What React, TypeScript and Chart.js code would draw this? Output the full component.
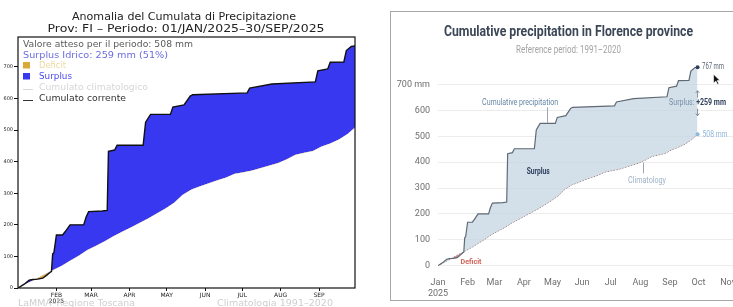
import React, { useEffect, useRef } from 'react';
import { Chart, registerables } from 'chart.js';
Chart.register(...registerables);

// ---------- data ----------
const monthStartDays = [0, 31, 59, 90, 120, 151, 181, 212, 243, 273, 304];
const monthNamesEn = ['Jan', 'Feb', 'Mar', 'Apr', 'May', 'Jun', 'Jul', 'Aug', 'Sep', 'Oct', 'Nov'];
const monthNamesIt = ['JAN', 'FEB', 'MAR', 'APR', 'MAY', 'JUN', 'JUL', 'AUG', 'SEP', 'OCT', 'NOV'];
const yearLabel = '2025';
const mmTicks = [0, 100, 200, 300, 400, 500, 600, 700];

// current cumulative precipitation (day of year from 1 Jan, mm)
const currentDays = [0, 5, 9, 12, 16, 20, 23, 26, 27, 28, 29, 31, 36, 38, 42, 53, 55, 57, 68, 72, 73, 78, 80, 101, 103, 107, 123, 125, 134, 139, 141, 185, 187, 205, 240, 242, 250, 252, 263, 265, 269, 272];
const currentMm = [0, 12, 25, 27, 28, 31, 40, 50, 52, 108, 112, 168, 168, 178, 200, 200, 225, 242, 244, 246, 433, 437, 452, 452, 525, 550, 550, 573, 580, 608, 612, 618, 633, 646, 653, 688, 694, 715, 716, 752, 765, 767];

// climatological cumulative 1991-2020
const climDays = [0, 7, 14, 21, 28, 35, 42, 49, 56, 63, 70, 77, 84, 91, 98, 105, 112, 119, 126, 133, 140, 147, 154, 161, 168, 175, 182, 189, 196, 203, 210, 217, 224, 231, 238, 245, 252, 259, 266, 272];
const climMm = [0, 14, 28, 42, 56, 70, 86, 102, 120, 134, 148, 164, 178, 192, 206, 220, 236, 252, 270, 295, 312, 322, 332, 341, 350, 362, 367, 372, 380, 388, 396, 408, 422, 428, 434, 448, 458, 470, 488, 508];

const lastCur = currentMm[currentMm.length - 1];
const lastClim = climMm[climMm.length - 1];
const lastDay = currentDays[currentDays.length - 1];
const surplus = lastCur - lastClim;
const surplusPct = Math.round((surplus / lastClim) * 100);

const pts = (xs: number[], ys: number[]) => xs.map((x, i) => ({ x, y: ys[i] }));

function fitText(ctx: CanvasRenderingContext2D, text: string, x: number, y: number, font: string, color: string, targetW: number, align: CanvasTextAlign = 'center') {
  ctx.save();
  ctx.font = font;
  ctx.fillStyle = color;
  ctx.textBaseline = 'middle';
  const w = ctx.measureText(text).width || 1;
  let s = targetW / w;
  s = Math.max(0.55, Math.min(1.4, s));
  ctx.translate(x, y);
  ctx.scale(s, 1);
  ctx.textAlign = align;
  ctx.fillText(text, 0, 0);
  ctx.restore();
}

const LF = '"DejaVu Sans", sans-serif';
const RF = 'Roboto, "Noto Sans", sans-serif';

// ---------- left chart decorations ----------
const leftDecor = {
  id: 'leftDecor',
  afterDraw(chart: any) {
    const { ctx, chartArea: a } = chart;
    ctx.save();
    ctx.strokeStyle = '#111';
    ctx.lineWidth = 1.2;
    ctx.strokeRect(a.left, a.top, a.right - a.left, a.bottom - a.top);
    fitText(ctx, 'Anomalia del Cumulata di Precipitazione', 184, 17, `10px ${LF}`, '#222', 224);
    fitText(ctx, 'Prov: FI \u2013 Periodo: 01/JAN/2025\u201330/SEP/2025', 186, 29, `10px ${LF}`, '#222', 277);
    fitText(ctx, `Valore atteso per il periodo: ${lastClim} mm`, 23, 45, `8px ${LF}`, '#5a5a5a', 170, 'left');
    fitText(ctx, `Surplus Idrico: ${surplus} mm (${surplusPct}%)`, 23, 55.5, `8px ${LF}`, '#6c6ce0', 145, 'left');
    ctx.fillStyle = '#d9a93a';
    ctx.fillRect(23, 62, 7, 6.5);
    fitText(ctx, 'Deficit', 39, 65.7, `8px ${LF}`, '#eed9a0', 27, 'left');
    ctx.fillStyle = '#3838f0';
    ctx.fillRect(23, 73, 7, 6.5);
    fitText(ctx, 'Surplus', 39, 76.7, `8px ${LF}`, '#4a4aec', 33, 'left');
    ctx.strokeStyle = '#d8d8d8';
    ctx.lineWidth = 1;
    ctx.beginPath(); ctx.moveTo(23, 89.5); ctx.lineTo(33, 89.5); ctx.stroke();
    fitText(ctx, 'Cumulato climatologico', 39, 87.5, `8px ${LF}`, '#d6d6d6', 109, 'left');
    ctx.strokeStyle = '#333';
    ctx.beginPath(); ctx.moveTo(23, 100.5); ctx.lineTo(33, 100.5); ctx.stroke();
    fitText(ctx, 'Cumulato corrente', 39, 98.5, `8px ${LF}`, '#333', 87, 'left');
    fitText(ctx, 'LaMMA\u2013Regione Toscana', 18, 304, `9px ${LF}`, '#cfcfcf', 117, 'left');
    fitText(ctx, 'Climatologia 1991\u20132020', 217, 304, `9px ${LF}`, '#cfcfcf', 116, 'left');
    ctx.restore();
  },
};

// ---------- right chart decorations ----------
function arrow(ctx: CanvasRenderingContext2D, x: number, y1: number, y2: number) {
  ctx.beginPath();
  ctx.moveTo(x, y1); ctx.lineTo(x, y2);
  const dir = y2 < y1 ? -1 : 1;
  ctx.moveTo(x - 1.8, y2 - dir * 2.2); ctx.lineTo(x, y2); ctx.lineTo(x + 1.8, y2 - dir * 2.2);
  ctx.stroke();
}

const rightDecor = {
  id: 'rightDecor',
  afterDraw(chart: any) {
    const { ctx } = chart;
    const xs = chart.scales.x, ys = chart.scales.y;
    const px = (d: number) => xs.getPixelForValue(d);
    const py = (v: number) => ys.getPixelForValue(v);
    ctx.save();
    fitText(ctx, 'Cumulative precipitation in Florence province', 177.5, 20, `bold 14px ${RF}`, '#3b4656', 249);
    fitText(ctx, 'Reference period: 1991\u20132020', 177.5, 38, `10px ${RF}`, '#a3a3a3', 105);

    ctx.strokeStyle = '#9aa6b2';
    ctx.lineWidth = 1;
    // leader for cumulative line
    ctx.beginPath(); ctx.moveTo(Math.round(px(114)) + 0.5, py(612)); ctx.lineTo(Math.round(px(114)) + 0.5, py(551)); ctx.stroke();
    fitText(ctx, 'Cumulative precipitation', px(86), py(629), `9px ${RF}`, '#6486a6', 76);
    // climatology leader
    ctx.beginPath(); ctx.moveTo(Math.round(px(214.6)) + 0.5, py(398)); ctx.lineTo(Math.round(px(214.6)) + 0.5, py(357)); ctx.stroke();
    fitText(ctx, 'Climatology', px(219), py(328), `9px ${RF}`, '#9fb3c8', 38);
    fitText(ctx, 'Surplus', px(105), py(362), `bold 9px ${RF}`, '#2e3f5c', 23);
    fitText(ctx, 'Deficit', px(34.6), py(15), `bold 8px ${RF}`, '#d0655a', 21);

    // end points
    const ex = px(lastDay);
    ctx.fillStyle = '#2e3f5c';
    ctx.beginPath(); ctx.arc(ex, py(lastCur), 2, 0, Math.PI * 2); ctx.fill();
    ctx.fillStyle = '#8fb8dc';
    ctx.beginPath(); ctx.arc(ex, py(lastClim), 2, 0, Math.PI * 2); ctx.fill();
    fitText(ctx, `${lastCur} mm`, ex + 4.5, py(lastCur), `9px ${RF}`, '#5b6673', 22, 'left');
    fitText(ctx, `${lastClim} mm`, ex + 5, py(lastClim), `9px ${RF}`, '#8fb8dc', 25, 'left');

    // surplus arrows and label
    ctx.strokeStyle = '#6f7780';
    ctx.lineWidth = 0.8;
    const ey = py(630);
    arrow(ctx, ex, ey - 5, ey - 12);
    arrow(ctx, ex, ey + 6, ey + 13);
    ctx.font = `9px ${RF}`;
    const t1 = 'Surplus: ';
    const w1 = ctx.measureText(t1).width;
    ctx.font = `bold 9px ${RF}`;
    const t2 = `+${surplus} mm`;
    const w2 = ctx.measureText(t2).width;
    const s = 57 / (w1 + w2);
    ctx.save();
    ctx.translate(ex - 28.5, ey);
    ctx.scale(s, 1);
    ctx.textBaseline = 'middle';
    ctx.textAlign = 'left';
    ctx.font = `9px ${RF}`;
    ctx.fillStyle = '#7a8fa6';
    ctx.fillText(t1, 0, 0);
    ctx.font = `bold 9px ${RF}`;
    ctx.fillStyle = '#2e3f5c';
    ctx.fillText(t2, w1, 0);
    ctx.restore();

    // mouse pointer from the screenshot
    ctx.save();
    ctx.translate(ex + 16, py(lastCur) + 7);
    ctx.scale(0.75, 0.75);
    ctx.beginPath();
    ctx.moveTo(0, 0); ctx.lineTo(0, 12); ctx.lineTo(3, 9); ctx.lineTo(5.2, 13.5); ctx.lineTo(7, 12.7); ctx.lineTo(4.8, 8.3); ctx.lineTo(8.5, 8.3); ctx.closePath();
    ctx.fillStyle = '#111'; ctx.fill();
    ctx.strokeStyle = '#fff'; ctx.lineWidth = 0.8; ctx.stroke();
    ctx.restore();
    ctx.restore();
  },
};

export default function App() {
  const leftRef = useRef<HTMLCanvasElement>(null);
  const rightRef = useRef<HTMLCanvasElement>(null);

  useEffect(() => {
    const left = new Chart(leftRef.current as HTMLCanvasElement, {
      type: 'line',
      data: {
        datasets: [
          {
            data: pts(currentDays, currentMm),
            borderColor: '#111',
            borderWidth: 1.4,
            pointRadius: 0,
            tension: 0,
            fill: { target: 1, above: '#3838f0', below: '#d9a93a' },
          },
          {
            data: pts(climDays, climMm),
            borderColor: '#f4f4f4',
            borderWidth: 1,
            pointRadius: 0,
            tension: 0,
            fill: false,
          },
        ],
      },
      options: {
        animation: false,
        responsive: false,
        maintainAspectRatio: false,
        layout: { padding: { top: 37, right: 10, left: 0, bottom: 0 } },
        plugins: { legend: { display: false }, tooltip: { enabled: false }, title: { display: false } },
        scales: {
          x: {
            type: 'linear',
            min: 0,
            max: 272,
            afterBuildTicks: (s: any) => { s.ticks = monthStartDays.slice(1, 9).map((v) => ({ value: v })); },
            afterFit: (s: any) => { s.height = 19; },
            ticks: {
              autoSkip: false,
              maxRotation: 0,
              padding: 1,
              color: '#222',
              font: { family: LF, size: 6, lineHeight: 1.0 },
              callback: (v: any) => {
                const i = monthStartDays.indexOf(Number(v));
                return i === 1 ? [monthNamesIt[i], yearLabel] : monthNamesIt[i];
              },
            },
            grid: { drawOnChartArea: false, drawTicks: true, tickLength: 3, color: '#111' },
            border: { display: false },
          },
          y: {
            min: 0,
            max: 795,
            afterBuildTicks: (s: any) => { s.ticks = mmTicks.map((v) => ({ value: v })); },
            afterFit: (s: any) => { s.width = 18; },
            ticks: { padding: 1, color: '#222', font: { family: LF, size: 5 } },
            grid: { drawOnChartArea: false, drawTicks: true, tickLength: 4, color: '#111' },
            border: { display: false },
          },
        },
      } as any,
      plugins: [leftDecor],
    });

    const right = new Chart(rightRef.current as HTMLCanvasElement, {
      type: 'line',
      data: {
        datasets: [
          {
            data: pts(currentDays, currentMm),
            borderColor: '#5f6a75',
            borderWidth: 1.2,
            pointRadius: 0,
            tension: 0,
            fill: { target: 1, above: 'rgba(196,212,225,0.75)', below: 'rgba(206,110,100,0.85)' },
          },
          {
            data: pts(climDays, climMm),
            borderColor: '#7f8890',
            borderWidth: 1,
            borderDash: [1.5, 1.5],
            pointRadius: 0,
            tension: 0,
            fill: false,
          },
        ],
      },
      options: {
        animation: false,
        responsive: false,
        maintainAspectRatio: false,
        layout: { padding: { top: 46.7, right: 0, left: 0, bottom: 0 } },
        plugins: { legend: { display: false }, tooltip: { enabled: false }, title: { display: false } },
        scales: {
          x: {
            type: 'linear',
            min: 0,
            max: 328,
            afterBuildTicks: (s: any) => { s.ticks = monthStartDays.map((v) => ({ value: v })); },
            afterFit: (s: any) => { s.height = 34.3; },
            ticks: {
              autoSkip: false,
              maxRotation: 0,
              padding: 3,
              color: '#6e6e6e',
              font: { family: RF, size: 9, lineHeight: 1.25 },
              callback: (v: any) => {
                const i = monthStartDays.indexOf(Number(v));
                return i === 0 ? [monthNamesEn[i], yearLabel] : monthNamesEn[i];
              },
            },
            grid: { display: false },
            border: { display: false },
          },
          y: {
            min: 0,
            max: 800,
            afterBuildTicks: (s: any) => { s.ticks = mmTicks.map((v) => ({ value: v })); },
            afterFit: (s: any) => { s.width = 47; },
            ticks: {
              padding: 8,
              color: '#6e6e6e',
              font: { family: RF, size: 9 },
              callback: (v: any) => (Number(v) === 700 ? '700 mm' : String(v)),
            },
            grid: { drawTicks: false, color: '#ececec', lineWidth: 1 },
            border: { display: false },
          },
        },
      } as any,
      plugins: [rightDecor],
    });

    return () => {
      left.destroy();
      right.destroy();
    };
  }, []);

  return (
    <div style={{ position: 'absolute', left: 0, top: 0, width: 733, height: 307, overflow: 'hidden', background: '#fff' }}>
      <canvas ref={leftRef} width={365} height={307} style={{ position: 'absolute', left: 0, top: 0, width: 365, height: 307 }} />
      <div style={{ position: 'absolute', left: 390, top: 11, width: 380, height: 288, border: '1px solid #a8a8a8', background: '#fff' }}>
        <canvas ref={rightRef} width={360} height={288} style={{ position: 'absolute', left: 0, top: 0, width: 360, height: 288 }} />
      </div>
    </div>
  );
}
